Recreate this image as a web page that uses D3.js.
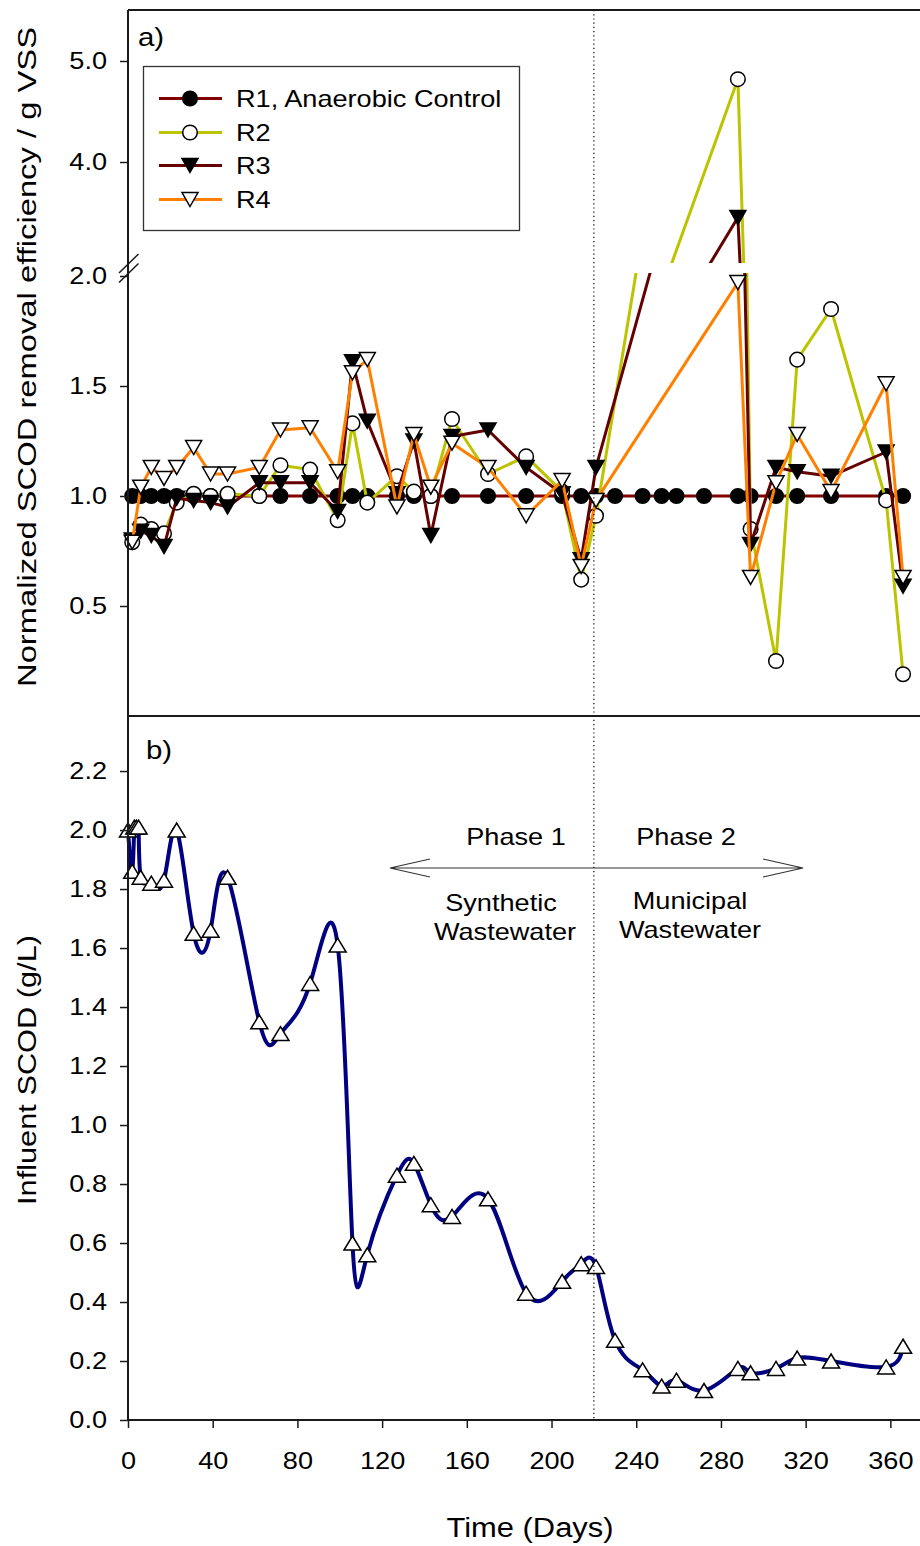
<!DOCTYPE html>
<html>
<head>
<meta charset="utf-8">
<script src="https://cdn.jsdelivr.net/npm/d3@7"></script>
<style>
  body { margin: 0; background: #fff; }
  text { font-family: "Liberation Sans", Arial, sans-serif; fill: #000; }
</style>
</head>
<body>
<svg id="chart" width="920" height="1546"></svg>
<script>
// ---- Data -------------------------------------------------------------
// Panel a) sampling days and normalized SCOD removal efficiency
const daysR1 = [2, 6, 11, 17, 23, 31, 39, 47, 62, 72, 86, 99, 106, 113, 127, 135, 143, 153, 170,
                188, 205, 214, 221, 230, 243, 252, 259, 272, 288, 294, 306, 316, 332, 358, 366];
const r1 = [1.0, 1.0, 1.0, 1.0, 1.0, 1.0, 1.0, 1.0, 1.0, 1.0, 1.0, 1.0, 1.0, 1.0, 1.0, 1.0, 1.0, 1.0,
            1.0, 1.0, 1.0, 1.0, 1.0, 1.0, 1.0, 1.0, 1.0, 1.0, 1.0, 1.0, 1.0, 1.0, 1.0, 1.0, 1.0];

const daysR = [2, 6, 11, 17, 23, 31, 39, 47, 62, 72, 86, 99, 106, 113, 127, 135, 143, 153, 170,
               188, 205, 214, 221, 288, 294, 306, 316, 332, 358, 366];
const r2 = [0.79, 0.87, 0.85, 0.83, 0.97, 1.01, 1.00, 1.01, 1.00, 1.14, 1.12, 0.89, 1.33, 0.97, 1.09,
            1.02, 1.00, 1.35, 1.10, 1.18, 1.02, 0.62, 0.91, 4.82, 0.85, 0.25, 1.62, 1.85, 0.98, 0.19];
const r3 = [0.80, 0.84, 0.82, 0.77, 0.99, 0.98, 0.97, 0.95, 1.06, 1.06, 1.06, 0.93, 1.61, 1.34, 1.01,
            1.25, 0.82, 1.27, 1.30, 1.13, 1.01, 0.71, 1.13, 3.45, 0.78, 1.13, 1.11, 1.09, 1.20, 0.59];
const r4 = [0.79, 1.04, 1.13, 1.08, 1.13, 1.22, 1.10, 1.10, 1.13, 1.30, 1.31, 1.11, 1.56, 1.62, 0.95,
            1.28, 1.04, 1.24, 1.13, 0.91, 1.07, 0.68, 0.98, 1.97, 0.63, 1.06, 1.28, 1.02, 1.51, 0.63];

// Panel b) influent SCOD (g/L)
const daysInf = [0, 2, 3, 4, 5, 6, 11, 17, 23, 31, 39, 47, 62, 72, 86, 99, 106, 113, 127, 135, 143,
                 153, 170, 188, 205, 214, 221, 230, 243, 252, 259, 272, 288, 294, 306, 316, 332, 358, 366];
const influent = [2.00, 1.86, 2.01, 2.01, 2.01, 1.84, 1.82, 1.83, 2.00, 1.65, 1.66, 1.84, 1.35, 1.31,
                  1.48, 1.61, 0.60, 0.56, 0.83, 0.87, 0.73, 0.69, 0.75, 0.43, 0.47, 0.53, 0.52, 0.27,
                  0.17, 0.115, 0.135, 0.10, 0.175, 0.16, 0.175, 0.21, 0.20, 0.18, 0.25];

// Axis ticks and labels
const xTicks = [0, 40, 80, 120, 160, 200, 240, 280, 320, 360];
const yTicksLow = [0.5, 1.0, 1.5, 2.0];
const yTicksHigh = [4.0, 5.0];
const yTicksInf = [0.0, 0.2, 0.4, 0.6, 0.8, 1.0, 1.2, 1.4, 1.6, 1.8, 2.0, 2.2];
const phaseDay = 220;
const seriesNames = ["R1, Anaerobic Control", "R2", "R3", "R4"];

// ---- Setup -----------------------------------------------------------
const svg = d3.select("#chart");
const AXIS = "#1a1a1a";
const FS = 24, STRETCH = 1.13;

function stretch(sel, f) {
  sel.each(function () {
    const L = this.getComputedTextLength();
    this.setAttribute("textLength", L * f);
    this.setAttribute("lengthAdjust", "spacingAndGlyphs");
  });
}

const x = d3.scaleLinear().domain([0, 374]).range([128, 920]);
const yLow = d3.scaleLinear().domain([0, 2]).range([716, 276]);      // lower segment of broken axis
const yHigh = d3.scaleLinear().domain([3, 5.5]).range([263, 10.5]);  // upper segment of broken axis
const yInf = d3.scaleLinear().domain([0, 2.39]).range([1420, 715]);

const defs = svg.append("defs");
defs.append("clipPath").attr("id", "clipLow")
  .append("rect").attr("x", 128).attr("y", 273).attr("width", 792).attr("height", 443);
defs.append("clipPath").attr("id", "clipHigh")
  .append("rect").attr("x", 128).attr("y", 10).attr("width", 792).attr("height", 253);

// ---- Markers ----------------------------------------------------------
function triPath(w, h, down) {
  const s = down ? -1 : 1;
  return `M0,${-s * h / 2}L${w / 2},${s * h / 2}L${-w / 2},${s * h / 2}Z`;
}
function drawMarker(g, type) {
  if (type === "filledCircle") {
    g.append("circle").attr("r", 7.3).attr("fill", "#000").attr("stroke", "#000").attr("stroke-width", 1.5);
  } else if (type === "openCircle") {
    g.append("circle").attr("r", 7.3).attr("fill", "#fff").attr("stroke", "#000").attr("stroke-width", 1.5);
  } else if (type === "filledDown") {
    g.append("path").attr("d", triPath(16, 14, true)).attr("fill", "#000").attr("stroke", "#000").attr("stroke-width", 1.5);
  } else if (type === "openDown") {
    g.append("path").attr("d", triPath(16, 14, true)).attr("fill", "#fff").attr("stroke", "#000").attr("stroke-width", 1.5);
  }
}

const series = [
  { name: seriesNames[0], days: daysR1, vals: r1, color: "#800000", marker: "filledCircle" },
  { name: seriesNames[1], days: daysR, vals: r2, color: "#bcc400", marker: "openCircle" },
  { name: seriesNames[2], days: daysR, vals: r3, color: "#640000", marker: "filledDown" },
  { name: seriesNames[3], days: daysR, vals: r4, color: "#ff8000", marker: "openDown" }
];

// ---- Panel a ----------------------------------------------------------
const gA = svg.append("g");
series.forEach(s => {
  const pts = s.days.map((d, i) => ({ day: d, v: s.vals[i] }));
  gA.append("path").attr("clip-path", "url(#clipLow)")
    .attr("d", d3.line().x(d => x(d.day)).y(d => yLow(d.v))(pts))
    .attr("fill", "none").attr("stroke", s.color).attr("stroke-width", 3).attr("stroke-linejoin", "round");
  gA.append("path").attr("clip-path", "url(#clipHigh)")
    .attr("d", d3.line().x(d => x(d.day)).y(d => yHigh(d.v))(pts))
    .attr("fill", "none").attr("stroke", s.color).attr("stroke-width", 3).attr("stroke-linejoin", "round");
  pts.forEach(p => {
    const yy = p.v > 2.5 ? yHigh(p.v) : yLow(p.v);
    const m = gA.append("g").attr("transform", `translate(${x(p.day)},${yy})`);
    drawMarker(m, s.marker);
  });
});

// ---- Panel b ----------------------------------------------------------
const gB = svg.append("g");
const infPts = daysInf.map((d, i) => ({ day: d, v: influent[i] }));
gB.append("path")
  .attr("d", d3.line().curve(d3.curveNatural).x(d => x(d.day)).y(d => yInf(d.v))(infPts))
  .attr("fill", "none").attr("stroke", "#000080").attr("stroke-width", 4);
infPts.forEach(p => {
  gB.append("path").attr("transform", `translate(${x(p.day)},${yInf(p.v)})`)
    .attr("d", triPath(17, 14, false))
    .attr("fill", "#fff").attr("stroke", "#000").attr("stroke-width", 1.5);
});

// ---- Phase divider & annotations -------------------------------------
svg.append("line")
  .attr("x1", x(phaseDay)).attr("x2", x(phaseDay)).attr("y1", 10).attr("y2", 1420)
  .attr("stroke", "#000").attr("stroke-width", 1.2).attr("stroke-dasharray", "1.2,3");

const ann = svg.append("g");
const arrowY = 868, ax1 = 390, ax2 = 803;
ann.append("path")
  .attr("d", `M${ax1},${arrowY}L${ax2},${arrowY}` +
             `M${ax1 + 40},${arrowY - 9}L${ax1},${arrowY}L${ax1 + 40},${arrowY + 9}` +
             `M${ax2 - 40},${arrowY - 9}L${ax2},${arrowY}L${ax2 - 40},${arrowY + 9}`)
  .attr("fill", "none").attr("stroke", "#333").attr("stroke-width", 1.2);

const annTexts = [
  ["Phase 1", 516, 845], ["Phase 2", 686, 845],
  ["Synthetic", 501, 911], ["Wastewater", 505, 940],
  ["Municipal", 690, 909], ["Wastewater", 690, 938]
];
annTexts.forEach(([t, tx, ty]) => {
  ann.append("text").attr("x", tx).attr("y", ty).attr("text-anchor", "middle")
    .attr("font-size", FS).text(t);
});
stretch(ann.selectAll("text"), STRETCH);

// ---- Axes -------------------------------------------------------------
const axes = svg.append("g");
function styleAxis(g) {
  g.select(".domain").remove();
  g.selectAll(".tick line").attr("stroke", AXIS).attr("stroke-width", 1.5);
  g.selectAll(".tick text").attr("font-size", FS).attr("font-family", "Liberation Sans, Arial, sans-serif").attr("fill", "#000");
}
const fmt = d3.format(".1f");
axes.append("g").attr("transform", "translate(128,0)")
  .call(d3.axisLeft(yLow).tickValues(yTicksLow).tickFormat(fmt).tickSize(8).tickPadding(13)).call(styleAxis);
axes.append("g").attr("transform", "translate(128,0)")
  .call(d3.axisLeft(yHigh).tickValues(yTicksHigh).tickFormat(fmt).tickSize(8).tickPadding(13)).call(styleAxis);
axes.append("g").attr("transform", "translate(128,0)")
  .call(d3.axisLeft(yInf).tickValues(yTicksInf).tickFormat(fmt).tickSize(8).tickPadding(13)).call(styleAxis);
axes.append("g").attr("transform", "translate(0,1420)")
  .call(d3.axisBottom(x).tickValues(xTicks).tickSize(8).tickPadding(24)).call(styleAxis);
stretch(axes.selectAll(".tick text"), STRETCH);

// frame lines
const frame = [
  [128, 10, 920, 10], [128, 716, 920, 716], [128, 1420, 920, 1420], [128, 10, 128, 1420]
];
frame.forEach(([a, b, c, d]) => {
  axes.append("line").attr("x1", a).attr("y1", b).attr("x2", c).attr("y2", d)
    .attr("stroke", AXIS).attr("stroke-width", 2);
});
// axis break marks
[263.5, 273].forEach(cy => {
  axes.append("line").attr("x1", 119).attr("y1", cy + 9.5).attr("x2", 138.5).attr("y2", cy - 9.5)
    .attr("stroke", AXIS).attr("stroke-width", 1.5);
});

// ---- Titles & panel labels -------------------------------------------
const titles = svg.append("g");
titles.append("text").attr("x", 138).attr("y", 46).attr("font-size", 26).text("a)");
titles.append("text").attr("x", 146).attr("y", 759).attr("font-size", 26).text("b)");
stretch(titles.selectAll("text"), STRETCH);

const yT1 = titles.append("text").attr("transform", "translate(36,357) rotate(-90)")
  .attr("text-anchor", "middle").attr("font-size", 26)
  .text("Normalized SCOD removal efficiency / g VSS");
yT1.attr("textLength", 660).attr("lengthAdjust", "spacingAndGlyphs");
const yT2 = titles.append("text").attr("transform", "translate(36,1070) rotate(-90)")
  .attr("text-anchor", "middle").attr("font-size", 26)
  .text("Influent SCOD (g/L)");
yT2.attr("textLength", 270).attr("lengthAdjust", "spacingAndGlyphs");
const xT = titles.append("text").attr("x", 530).attr("y", 1537).attr("text-anchor", "middle")
  .attr("font-size", 27).text("Time (Days)");
xT.attr("textLength", 167).attr("lengthAdjust", "spacingAndGlyphs");

// ---- Legend -----------------------------------------------------------
const leg = svg.append("g");
leg.append("rect").attr("x", 143.5).attr("y", 66.5).attr("width", 376).attr("height", 164)
  .attr("fill", "#fff").attr("stroke", "#333").attr("stroke-width", 1.3);
const rowY = [98.5, 132.5, 165.5, 199.5];
series.forEach((s, i) => {
  const ry = rowY[i];
  leg.append("line").attr("x1", 159).attr("x2", 222).attr("y1", ry).attr("y2", ry)
    .attr("stroke", s.color).attr("stroke-width", 3);
  const m = leg.append("g").attr("transform", `translate(190,${ry})`);
  drawMarker(m, s.marker);
  leg.append("text").attr("class", "lt").attr("x", 236).attr("y", ry + 8.5).attr("font-size", FS).text(s.name);
});
stretch(leg.selectAll("text.lt"), STRETCH);
</script>
</body>
</html>
